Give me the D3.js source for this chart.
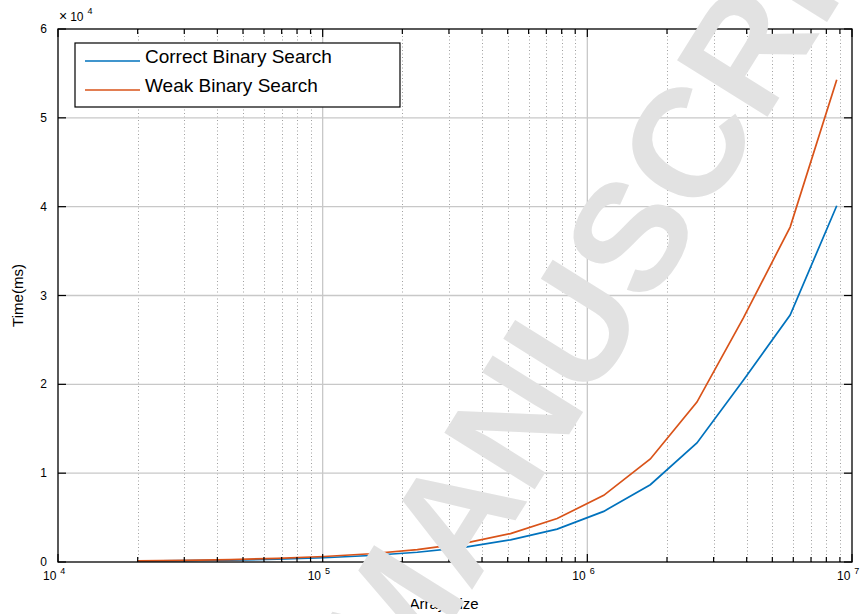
<!DOCTYPE html>
<html>
<head>
<meta charset="utf-8">
<script src="https://cdn.jsdelivr.net/npm/d3@7"></script>
<style>
    body { margin: 0; background: #fff; }
    text { font-family: "Liberation Sans", Arial, Helvetica, sans-serif; fill: #000; }
</style>
</head>
<body>
<div id="output"></div>
<script>
var arraySizes = [20000, 30000, 45000, 67500, 101250, 151875, 227813, 341719,
    512578, 768867, 1153301, 1729951, 2594927, 3892390, 5838585, 8757878];
var correctTimes = [95, 145, 215, 320, 480, 730, 1100, 1650,
    2500, 3700, 5700, 8700, 13400, 20500, 27800, 40100];
var weakTimes = [120, 185, 275, 410, 620, 930, 1400, 2100,
    3200, 4900, 7500, 11600, 18000, 27500, 37700, 54300];
var seriesNames = ["Correct Binary Search", "Weak Binary Search"];
var yTickValues = [0, 10000, 20000, 30000, 40000, 50000, 60000];
var yTickLabels = ["0", "1", "2", "3", "4", "5", "6"];
var xDecades = [1e4, 1e5, 1e6, 1e7];
var xDecadeExps = ["4", "5", "6", "7"];

var w = 866;
var h = 614;
var plot = {left: 58, right: 852, top: 29, bottom: 562};

var x = d3.scaleLog()
    .domain([1e4, 1e7])
    .range([plot.left, plot.right]);

var y = d3.scaleLinear()
    .domain([0, 60000])
    .range([plot.bottom, plot.top]);

var colors = ["#0072BD", "#D95319"];

var svg = d3.select("#output").append("svg")
    .attr("width", w)
    .attr("height", h);

// minor ticks on the log axis
var minorTicks = [];
xDecades.slice(0, 3).forEach(function (d) {
    for (var k = 2; k <= 9; k++) minorTicks.push(d * k);
});

svg.append("g").selectAll("line")
    .data(minorTicks)
    .enter().append("line")
    .attr("x1", function (d) { return Math.round(x(d)) + 0.5 })
    .attr("x2", function (d) { return Math.round(x(d)) + 0.5 })
    .attr("y1", plot.top)
    .attr("y2", plot.bottom)
    .attr("stroke", "#a0a0a0")
    .attr("stroke-width", 1)
    .attr("stroke-dasharray", "1,2.5");

svg.append("g").selectAll("line")
    .data(xDecades.slice(1, 3))
    .enter().append("line")
    .attr("x1", function (d) { return x(d) })
    .attr("x2", function (d) { return x(d) })
    .attr("y1", plot.top)
    .attr("y2", plot.bottom)
    .attr("stroke", "#c8c8c8")
    .attr("stroke-width", 1.3);

svg.append("g").selectAll("line")
    .data(yTickValues.slice(1, 6))
    .enter().append("line")
    .attr("x1", plot.left)
    .attr("x2", plot.right)
    .attr("y1", function (d) { return y(d) })
    .attr("y2", function (d) { return y(d) })
    .attr("stroke", "#c8c8c8")
    .attr("stroke-width", 1.3);

// data lines
var line = d3.line()
    .x(function (d) { return x(d[0]) })
    .y(function (d) { return y(d[1]) });

[correctTimes, weakTimes].forEach(function (vals, i) {
    svg.append("path")
        .datum(arraySizes.map(function (s, j) { return [s, vals[j]] }))
        .attr("fill", "none")
        .attr("stroke", colors[i])
        .attr("stroke-width", 1.7)
        .attr("d", line);
});

// axes box and ticks
var axes = svg.append("g")
    .attr("stroke", "#000");

axes.append("rect")
    .attr("x", plot.left)
    .attr("y", plot.top)
    .attr("width", plot.right - plot.left)
    .attr("height", plot.bottom - plot.top)
    .attr("fill", "none")
    .attr("stroke-width", 1.3);

function xTicks(data, len) {
    axes.append("g").selectAll("line")
        .data(data).enter().append("line")
        .attr("x1", function (d) { return x(d) })
        .attr("x2", function (d) { return x(d) })
        .attr("y1", plot.bottom)
        .attr("y2", plot.bottom - len)
        .attr("stroke-width", 1.2);
    axes.append("g").selectAll("line")
        .data(data).enter().append("line")
        .attr("x1", function (d) { return x(d) })
        .attr("x2", function (d) { return x(d) })
        .attr("y1", plot.top)
        .attr("y2", plot.top + len)
        .attr("stroke-width", 1.2);
}
xTicks(minorTicks, 5);
xTicks(xDecades, 8);

axes.append("g").selectAll("line")
    .data(yTickValues).enter().append("line")
    .attr("x1", plot.left)
    .attr("x2", plot.left + 8)
    .attr("y1", function (d) { return y(d) })
    .attr("y2", function (d) { return y(d) })
    .attr("stroke-width", 1.2);

axes.append("g").selectAll("line")
    .data(yTickValues).enter().append("line")
    .attr("x1", plot.right)
    .attr("x2", plot.right - 8)
    .attr("y1", function (d) { return y(d) })
    .attr("y2", function (d) { return y(d) })
    .attr("stroke-width", 1.2);

// tick labels
svg.append("g").selectAll("text")
    .data(yTickValues).enter().append("text")
    .attr("x", plot.left - 11)
    .attr("y", function (d) { return y(d) + 4 })
    .attr("text-anchor", "end")
    .style("font-size", "12px")
    .text(function (d, i) { return yTickLabels[i] });

var xl = svg.append("g").selectAll("text")
    .data(xDecades).enter().append("text")
    .attr("x", function (d) { return x(d) - 15 })
    .attr("y", plot.bottom + 18)
    .style("font-size", "12px");
xl.append("tspan").text("10");
xl.append("tspan")
    .attr("dx", 4)
    .attr("dy", -6)
    .style("font-size", "9px")
    .text(function (d, i) { return xDecadeExps[i] });

var ex = svg.append("text")
    .attr("x", plot.left + 1)
    .attr("y", 21)
    .style("font-size", "12px");
ex.append("tspan").style("font-size", "14px").text("\u00d7");
ex.append("tspan").attr("dx", 3).text("10");
ex.append("tspan")
    .attr("dx", 4)
    .attr("dy", -7)
    .style("font-size", "9px")
    .text("4");

// axis labels
svg.append("text")
    .attr("x", 444)
    .attr("y", 609)
    .attr("text-anchor", "middle")
    .style("font-size", "15px")
    .text("Array Size");

svg.append("text")
    .attr("transform", "translate(23," + ((plot.top + plot.bottom) / 2) + ") rotate(-90)")
    .attr("text-anchor", "middle")
    .style("font-size", "15px")
    .text("Time(ms)");

// legend
var legend = svg.append("g");
legend.append("rect")
    .attr("x", 75)
    .attr("y", 43)
    .attr("width", 325)
    .attr("height", 64)
    .attr("fill", "#fff")
    .attr("stroke", "#000")
    .attr("stroke-width", 1.2);

seriesNames.forEach(function (name, i) {
    var ly = 61 + i * 29;
    legend.append("line")
        .attr("x1", 85)
        .attr("x2", 140)
        .attr("y1", ly)
        .attr("y2", ly)
        .attr("stroke", colors[i])
        .attr("stroke-width", 1.7);
    legend.append("text")
        .attr("x", 145)
        .attr("y", ly + 2)
        .style("font-size", "19px")
        .text(name);
});

// watermark
svg.append("text")
    .attr("transform", "translate(630,236) rotate(-58)")
    .attr("text-anchor", "middle")
    .attr("dominant-baseline", "central")
    .style("font-size", "155px")
    .style("font-weight", "bold")
    .style("fill", "#e2e2e2")
    .text("MANUSCRIPT");
</script>
</body>
</html>
